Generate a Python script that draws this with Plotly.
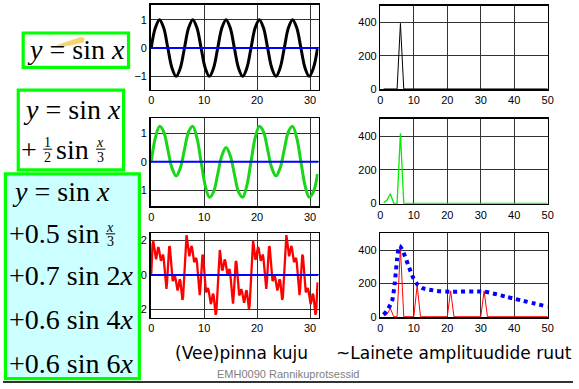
import plotly.graph_objects as go

W, H = 579, 389

# ---------------- data ----------------
WAVE_STEP = 0.7854          # sample spacing of the two smooth waves (x units)
BLACK_WAVE = [0, 0.71, 1, 0.71, 0, -0.71, -1, -0.71,
              0, 0.71, 1, 0.71, 0, -0.71, -1, -0.71,
              0, 0.71, 1, 0.71, 0, -0.71, -1, -0.71,
              0, 0.71, 1, 0.71, 0, -0.71, -1, -0.71,
              0, 0.71, 1, 0.71, 0, -0.71, -1, -0.71,
              0]
GREEN_WAVE = [0, 0.84, 1.25, 1.06, 0.43, -0.22, -0.5, -0.22, 0.43, 1.06,
              1.25, 0.84, 0, -0.84, -1.25, -1.06, -0.43, 0.22, 0.5, 0.22,
              -0.43, -1.06, -1.25, -0.84, 0, 0.84, 1.25, 1.06, 0.43, -0.22,
              -0.5, -0.22, 0.43, 1.06, 1.25, 0.84, 0, -0.84, -1.25, -1.06,
              -0.43]
RED_STEP = 0.1309           # sample spacing of the mixed wave (x units)
RED_WAVE = [
    0.00, 1.06, 1.77, 1.97, 1.71, 1.27, 0.94, 0.90, 1.12, 1.43,
    1.61, 1.53, 1.25, 0.96, 0.82, 0.91, 1.10, 1.18, 0.96, 0.43,
    -0.24, -0.74, -0.80, -0.35, 0.43, 1.22, 1.66, 1.60, 1.10, 0.42,
    -0.12, -0.35, -0.29, -0.11, -0.04, -0.19, -0.50, -0.80, -0.90, -0.75,
    -0.46, -0.26, -0.32, -0.68, -1.16, -1.44, -1.28, -0.59, 0.43, 1.46,
    2.14, 2.30, 2.01, 1.53, 1.16, 1.08, 1.27, 1.55, 1.68, 1.57,
    1.25, 0.92, 0.75, 0.80, 0.95, 0.99, 0.74, 0.17, -0.54, -1.07,
    -1.17, -0.75, 0.00, 0.75, 1.17, 1.07, 0.54, -0.17, -0.74, -0.99,
    -0.95, -0.80, -0.75, -0.92, -1.25, -1.57, -1.68, -1.55, -1.27, -1.08,
    -1.16, -1.53, -2.01, -2.30, -2.14, -1.46, -0.43, 0.59, 1.28, 1.44,
    1.16, 0.68, 0.32, 0.26, 0.46, 0.75, 0.90, 0.80, 0.50, 0.19,
    0.04, 0.11, 0.29, 0.35, 0.12, -0.42, -1.10, -1.60, -1.66, -1.22,
    -0.43, 0.35, 0.80, 0.74, 0.24, -0.43, -0.96, -1.18, -1.10, -0.91,
    -0.82, -0.96, -1.25, -1.53, -1.61, -1.43, -1.12, -0.90, -0.94, -1.27,
    -1.71, -1.97, -1.77, -1.06, 0.00,
    1.06, 1.77, 1.97, 1.71, 1.27, 0.94, 0.90, 1.12, 1.43,
    1.61, 1.53, 1.25, 0.96, 0.82, 0.91, 1.10, 1.18, 0.96, 0.43,
    -0.24, -0.74, -0.80, -0.35, 0.43, 1.22, 1.66, 1.60, 1.10, 0.42,
    -0.12, -0.35, -0.29, -0.11, -0.04, -0.19, -0.50, -0.80, -0.90, -0.75,
    -0.46, -0.26, -0.32, -0.68, -1.16, -1.44, -1.28, -0.59, 0.43, 1.46,
    2.14, 2.30, 2.01, 1.53, 1.16, 1.08, 1.27, 1.55, 1.68, 1.57,
    1.25, 0.92, 0.75, 0.80, 0.95, 0.99, 0.74, 0.17, -0.54, -1.07,
    -1.17, -0.75, 0.00, 0.75, 1.17, 1.07, 0.54, -0.17, -0.74, -0.99,
    -0.95, -0.80, -0.75, -0.92, -1.25, -1.57, -1.68, -1.55, -1.27, -1.08,
    -1.16, -1.53, -2.01, -2.30, -2.14, -1.46, -0.43]
ZERO_X = [-0.1, 31.6]
ZERO_Y = [0, 0]

SPEC_X = [1, 2, 3, 4, 5, 6, 7, 8, 9, 10, 11, 12, 13, 14, 15, 16, 17, 18, 19, 20,
          21, 22, 23, 24, 25, 26, 27, 28, 29, 30, 31, 32, 33, 34, 35, 36, 37, 38, 39, 40,
          41, 42, 43, 44, 45, 46, 47, 48, 49, 50]
BLACK_SPEC = [0, 0, 0, 0, 0, 395, 0, 0, 0, 0, 0, 0, 0, 0, 0, 0, 0, 0, 0, 0,
              0, 0, 0, 0, 0, 0, 0, 0, 0, 0, 0, 0, 0, 0, 0, 0, 0, 0, 0, 0,
              0, 0, 0, 0, 0, 0, 0, 0, 0, 0]
GREEN_SPEC = [5, 20, 58, 0, 0, 417, 0, 0, 0, 0, 0, 0, 0, 0, 0, 0, 0, 0, 0, 0,
              0, 0, 0, 0, 0, 0, 0, 0, 0, 0, 0, 0, 0, 0, 0, 0, 0, 0, 0, 0,
              0, 0, 0, 0, 0, 0, 0, 0, 0, 0]
RED_SPEC = [6, 14, 50, 0, 0, 414, 0, 0, 0, 0, 188, 0, 0, 0, 0, 0, 0, 0, 0, 0,
            155, 0, 0, 0, 0, 0, 0, 0, 0, 0, 155, 0, 0, 0, 0, 0, 0, 0, 0, 0,
            0, 0, 0, 0, 0, 0, 0, 0, 0, 0]
ENV_X = [1, 2.4, 3.5, 4.3, 5.0, 5.7, 6.6, 8.3, 9.8, 11, 12.5, 16.8, 21, 31, 37.5, 50]
ENV_Y = [12, 50, 95, 200, 345, 425, 400, 311, 234, 195, 172, 155, 150, 150, 120, 60]

LEFT_TICKS_X = [0, 10, 20, 30]
RIGHT_TICKS_X = [0, 10, 20, 30, 40, 50]
CAPTION_LEFT = "(Vee)pinna kuju"
CAPTION_RIGHT = "~Lainete amplituudide ruut"
FOOTER = "EMH0090 Rannikuprotsessid"


# ---------------- helpers ----------------
def fx(x):
    return x / W


def fy(y):
    return 1 - y / H


TICKFONT = dict(family="Liberation Sans, Arial", size=11, color="black")


def axis_common():
    return dict(showline=True, linecolor="black", linewidth=1.5, mirror=True,
                showgrid=True, gridcolor="#333333", gridwidth=1, zeroline=False,
                ticks="", tickfont=TICKFONT, fixedrange=True)


fig = go.Figure()

LEFT_X = (150.0, 320.5)
RIGHT_X = (383.3, 553.3)
ROWS_L = [(5, 91), (120, 209.5), (236.7, 322.7)]
ROWS_R = [(5.7, 90.7), (120.7, 207), (236.7, 322)]
LEFT_YR = [[-1.47, 1.52], [-1.57, 1.54], [-2.47, 2.42]]
LEFT_YT = [[-1, 0, 1], [-1, 0, 1], [-2, 0, 2]]

layout_axes = {}
for i in range(3):
    n = i + 1
    xa = axis_common()
    xa.update(domain=[fx(LEFT_X[0]), fx(LEFT_X[1])], range=[-0.1, 31.6],
              tickvals=LEFT_TICKS_X, anchor="y%d" % n if n > 1 else "y")
    ya = axis_common()
    ya.update(domain=[fy(ROWS_L[i][1]), fy(ROWS_L[i][0])], range=LEFT_YR[i],
              tickvals=LEFT_YT[i], anchor="x%d" % n if n > 1 else "x")
    layout_axes["xaxis" if n == 1 else "xaxis%d" % n] = xa
    layout_axes["yaxis" if n == 1 else "yaxis%d" % n] = ya
for i in range(3):
    n = i + 4
    xa = axis_common()
    xa.update(domain=[fx(RIGHT_X[0]), fx(RIGHT_X[1])], range=[0, 50],
              tickvals=RIGHT_TICKS_X, anchor="y%d" % n, layer="below traces")
    ya = axis_common()
    ya.update(domain=[fy(ROWS_R[i][1]), fy(ROWS_R[i][0])], range=[-2, 502],
              tickvals=[0, 200, 400], anchor="x%d" % n, layer="below traces")
    layout_axes["xaxis%d" % n] = xa
    layout_axes["yaxis%d" % n] = ya

# left column waves
fig.add_trace(go.Scatter(y=BLACK_WAVE, x0=0, dx=WAVE_STEP, mode="lines",
                         line=dict(color="black", width=3, shape="spline"),
                         xaxis="x", yaxis="y"))
fig.add_trace(go.Scatter(y=GREEN_WAVE, x0=0, dx=WAVE_STEP, mode="lines",
                         line=dict(color="#19d619", width=3, shape="spline"),
                         xaxis="x2", yaxis="y2"))
fig.add_trace(go.Scatter(y=RED_WAVE, x0=0, dx=RED_STEP, mode="lines",
                         line=dict(color="#ff0000", width=2.3),
                         xaxis="x3", yaxis="y3"))
for n in ("", "2", "3"):
    fig.add_trace(go.Scatter(x=ZERO_X, y=ZERO_Y, mode="lines",
                             line=dict(color="#0000ff", width=2),
                             xaxis="x" + n, yaxis="y" + n))

# right column spectra
fig.add_trace(go.Scatter(x=SPEC_X, y=BLACK_SPEC, mode="lines",
                         line=dict(color="black", width=1), xaxis="x4", yaxis="y4"))
fig.add_trace(go.Scatter(x=SPEC_X, y=GREEN_SPEC, mode="lines",
                         line=dict(color="#00ee00", width=1.3), xaxis="x5", yaxis="y5"))
fig.add_trace(go.Scatter(x=SPEC_X, y=RED_SPEC, mode="lines",
                         line=dict(color="#ff0000", width=1), xaxis="x6", yaxis="y6"))
fig.add_trace(go.Scatter(x=ENV_X, y=ENV_Y, mode="lines",
                         line=dict(color="#0000ff", width=4, dash="4px,4px",
                                   shape="spline", smoothing=0.7),
                         xaxis="x6", yaxis="y6"))

shapes = []
annotations = []


def rect(x0, y0, x1, y1, fill, lw=3.2, color="#00ff00"):
    shapes.append(dict(type="rect", xref="paper", yref="paper", layer="above",
                       x0=fx(x0), x1=fx(x1), y0=fy(y1), y1=fy(y0),
                       fillcolor=fill, line=dict(color=color, width=lw)))


def hline(x0, x1, y, lw=1, color="black"):
    shapes.append(dict(type="line", xref="paper", yref="paper", layer="above",
                       x0=fx(x0), x1=fx(x1), y0=fy(y), y1=fy(y),
                       line=dict(color=color, width=lw)))


def text(s, x, y, size, anchor="center", family="Liberation Serif, Times New Roman",
         color="black"):
    annotations.append(dict(text=s, x=fx(x), y=fy(y), xref="paper", yref="paper",
                            xanchor=anchor, yanchor="middle", showarrow=False,
                            font=dict(family=family, size=size, color=color)))


# formula boxes
rect(20.5, 33.5, 127.5, 68.5, "white")
rect(15.5, 91.5, 122.5, 172.5, "white")
rect(2.5, 176.5, 138.5, 384.5, "#ccffff")

# highlighter stroke in first box
pts = [(54, 46), (66, 42), (79, 37.5), (83, 38.5), (82, 43), (70, 46), (60, 47.5)]
path = "M " + " L ".join("%f %f" % (fx(a), fy(b)) for a, b in pts) + " Z"
shapes.append(dict(type="path", xref="paper", yref="paper", layer="above", path=path,
                   fillcolor="#f5c542", opacity=0.75, line=dict(width=0)))

FS = 28
text("<i>y</i> = sin <i>x</i>", 74, 50, FS)
text("<i>y</i> = sin <i>x</i>", 70, 111, FS)
text("+", 26, 152, FS)
text("1", 45.5, 145, 14)
hline(41, 50, 151.5)
text("2", 45.5, 160, 14)
text("sin", 70.5, 152, FS)
text("<i>x</i>", 99, 145, 14)
hline(94.5, 104, 151.5)
text("3", 99, 160, 14)

FS3 = 28
text("<i>y</i> = sin <i>x</i>", 7, 194, FS3, anchor="left")
text("+0.5 sin", 4, 237, FS3, anchor="left")
text("<i>x</i>", 109, 231, 14)
hline(104.5, 114, 237.5)
text("3", 109, 245, 14)
text("+0.7 sin 2<i>x</i>", 4, 280, FS3, anchor="left")
text("+0.6 sin 4<i>x</i>", 4, 324, FS3, anchor="left")
text("+0.6 sin 6<i>x</i>", 4, 369, FS3, anchor="left")

# captions
text(CAPTION_LEFT, 242, 359, 17, family="DejaVu Sans")
text(CAPTION_RIGHT, 458, 359, 17, family="DejaVu Sans")
text(FOOTER, 290, 380, 11, family="Liberation Sans, Arial", color="#808080")
hline(0, 579, 388, lw=2, color="#333333")

fig.update_layout(width=W, height=H, autosize=False,
                  margin=dict(l=0, r=0, t=0, b=0, pad=0),
                  paper_bgcolor="white", plot_bgcolor="white",
                  showlegend=False, shapes=shapes, annotations=annotations,
                  **layout_axes)

fig.write_html("out.html", config={"displayModeBar": False, "staticPlot": True})
